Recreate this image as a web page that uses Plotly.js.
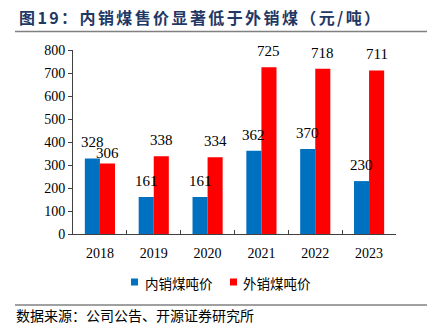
<!DOCTYPE html>
<html><head><meta charset="utf-8">
<script src="https://cdn.plot.ly/plotly-3.0.1.min.js"></script>
<style>body{margin:0;background:#fff}#c{width:437px;height:324px}</style>
</head><body><div id="c"></div>
<script>
const years = ['2018','2019','2020','2021','2022','2023'];
const domestic = [328,161,161,362,370,230];
const overseas = [306,338,334,725,718,711];
const seriesNames = ['内销煤吨价','外销煤吨价'];
const seriesColors = ['#0070C0','#FF0000'];
const titleText = '图19：内销煤售价显著低于外销煤（元/吨）';
const sourceText = '数据来源：公司公告、开源证券研究所';

const serif = '"Liberation Serif","Times New Roman",serif';
const cjk = '"Noto Sans CJK SC",sans-serif';
// plot area in pixels
const PL = 73, PR = 396, PT = 50, PB = 234;
const W = PR - PL, H = PB - PT;
const px = x => (x - PL) / W;
const py = y => (PB - y) / H;

const traces = [
  {type:'bar', name:seriesNames[0], x:years, y:domestic, marker:{color:seriesColors[0]}, showlegend:false},
  {type:'bar', name:seriesNames[1], x:years, y:overseas, marker:{color:seriesColors[1]}, showlegend:false}
];

const annotations = [];
const labelShift = {'1-0': -5, '0-0': 1}; // 306 label sits lower in the original
[domestic, overseas].forEach((vals, s) => {
  vals.forEach((v, i) => {
    annotations.push({xref:'x', yref:'y', x:i, y:v, xshift:(s === 0 ? -7.5 : 7.5),
      yshift:7 + (labelShift[s + '-' + i] || 0), yanchor:'bottom', xanchor:'center', borderpad:0,
      text:String(v), showarrow:false, font:{family:serif, size:15, color:'#000'}});
  });
});
// title & source
annotations.push({xref:'paper', yref:'paper', x:px(17), y:py(17), xanchor:'left', yanchor:'middle',
  text:'<b><span style="letter-spacing:2.4px">'+titleText+'</span></b>', showarrow:false,
  font:{family:cjk, size:16, color:'#1F3864'}});
annotations.push({xref:'paper', yref:'paper', x:px(14), y:py(315), xanchor:'left', yanchor:'middle',
  text:sourceText, showarrow:false, font:{family:cjk, size:14, color:'#000'}});
// legend (drawn manually to match compact layout)
const legX = [[131, 143], [230, 241]];
const shapes = [
  {type:'line', xref:'paper', yref:'paper', x0:px(15), x1:px(427), y0:py(31.5), y1:py(31.5), line:{color:'#808080', width:1.5}},
  {type:'line', xref:'paper', yref:'paper', x0:px(15), x1:px(427), y0:py(305), y1:py(305), line:{color:'#808080', width:1.5}}
];
seriesNames.forEach((n, s) => {
  shapes.push({type:'rect', xref:'paper', yref:'paper', x0:px(legX[s][0]), x1:px(legX[s][0]+7),
    y0:py(285.5), y1:py(278.5), fillcolor:seriesColors[s], line:{width:0}});
  annotations.push({xref:'paper', yref:'paper', x:px(legX[s][1]), y:py(283), xanchor:'left', yanchor:'middle',
    text:n, showarrow:false, font:{family:cjk, size:13.5, color:'#000'}});
});

const layout = {
  width:437, height:324,
  margin:{l:PL, r:437-PR, t:PT, b:324-PB},
  paper_bgcolor:'#fff', plot_bgcolor:'#fff',
  barmode:'group', bargap:0.44, bargroupgap:0,
  font:{family:serif, size:14, color:'#000'},
  showlegend:false,
  xaxis:{type:'category', categoryorder:'array', categoryarray:years, range:[-0.5, years.length-0.5],
    showline:true, linecolor:'#404040', linewidth:1, ticks:'inside',
    tickson:'boundaries', ticklen:4, tickcolor:'#404040', showgrid:false,
    ticklabelstandoff:6, tickfont:{family:serif, size:14}},
  yaxis:{range:[0,800], dtick:100, showline:true, linecolor:'#404040', linewidth:1,
    ticks:'outside', ticklen:4, tickcolor:'#404040', showgrid:false, zeroline:false,
    tickfont:{family:serif, size:14}},
  annotations, shapes
};
Plotly.newPlot('c', traces, layout, {displayModeBar:false, staticPlot:true});
</script></body></html>
